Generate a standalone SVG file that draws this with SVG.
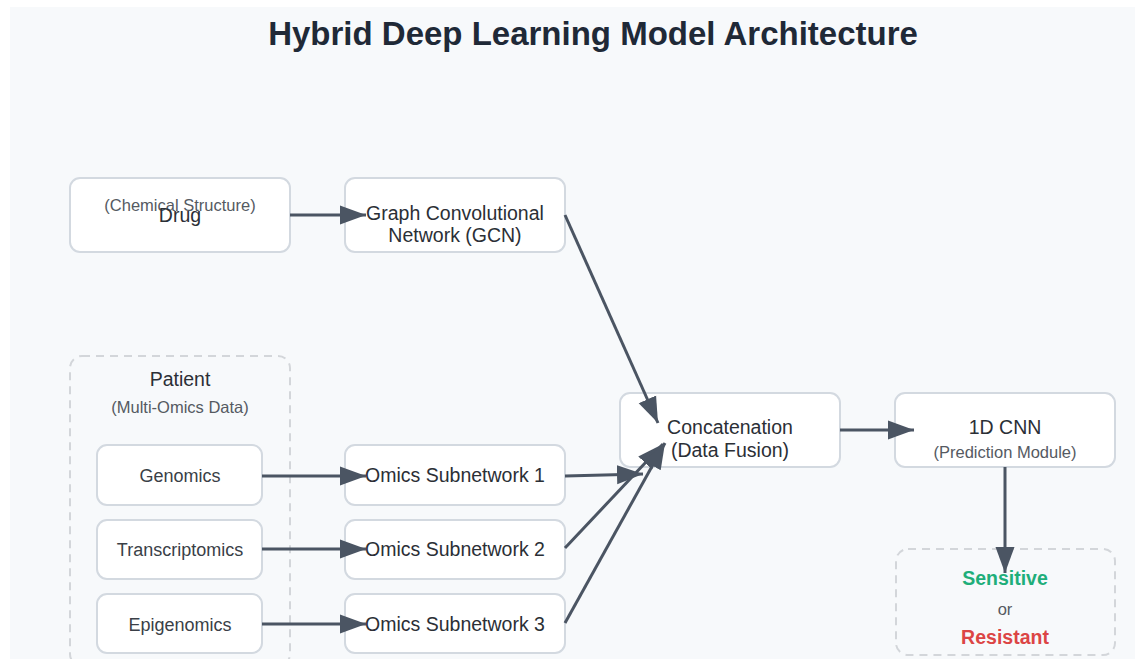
<svg xmlns="http://www.w3.org/2000/svg" width="1135" height="659" viewBox="0 0 1135 659">
<style>
.box{fill:#ffffff;stroke:#d3d9e0;stroke-width:2}
.dash{fill:none;stroke:#d3d6da;stroke-width:2;stroke-dasharray:8 6}
.t{font-family:"Liberation Sans",Arial,sans-serif;fill:#2b2f36;text-anchor:middle}
.m{font-size:19.5px}
.s{font-size:16.5px;fill:#555a62}
.g{font-size:18px;fill:#3a3f47}
.c{stroke:#4b5563;stroke-width:3;fill:none;marker-end:url(#ah)}
</style>
<defs>
<marker id="ah" markerUnits="userSpaceOnUse" markerWidth="27" markerHeight="22" refX="26" refY="11" orient="auto">
<path d="M0,1.5 L26,11 L0,20.5 Z" fill="#4b5563"/>
</marker>
</defs>
<rect x="0" y="0" width="1135" height="659" fill="#ffffff"/>
<rect x="10" y="7" width="1125" height="652" fill="#f7f9fb"/>
<text class="t" x="593" y="45" style="font-size:33px;font-weight:bold;fill:#1f2937">Hybrid Deep Learning Model Architecture</text>

<g id="drug">
<rect class="box" x="70" y="178" width="220" height="74" rx="10"/>
<text class="t s" x="180" y="211">(Chemical Structure)</text>
<text class="t m" x="180" y="222">Drug</text>
</g>
<g id="gcn">
<rect class="box" x="345" y="178" width="220" height="74" rx="10"/>
<text class="t m" x="455" y="220">Graph Convolutional</text>
<text class="t m" x="455" y="242">Network (GCN)</text>
</g>
<g id="patient">
<rect class="dash" x="70" y="356" width="220" height="310" rx="12"/>
<text class="t m" x="180" y="386">Patient</text>
<text class="t s" x="180" y="413">(Multi-Omics Data)</text>
</g>
<g id="genomics">
<rect class="box" x="97" y="445" width="165" height="60" rx="10"/>
<text class="t g" x="180" y="482">Genomics</text>
</g>
<g id="transcriptomics">
<rect class="box" x="97" y="520" width="165" height="59" rx="10"/>
<text class="t g" x="180" y="556">Transcriptomics</text>
</g>
<g id="epigenomics">
<rect class="box" x="97" y="594" width="165" height="59" rx="10"/>
<text class="t g" x="180" y="631">Epigenomics</text>
</g>
<g id="os1">
<rect class="box" x="345" y="445" width="220" height="60" rx="10"/>
<text class="t m" x="455" y="482">Omics Subnetwork 1</text>
</g>
<g id="os2">
<rect class="box" x="345" y="520" width="220" height="59" rx="10"/>
<text class="t m" x="455" y="556">Omics Subnetwork 2</text>
</g>
<g id="os3">
<rect class="box" x="345" y="594" width="220" height="59" rx="10"/>
<text class="t m" x="455" y="631">Omics Subnetwork 3</text>
</g>
<g id="concat">
<rect class="box" x="620" y="393" width="220" height="74" rx="10"/>
<text class="t m" x="730" y="434">Concatenation</text>
<text class="t m" x="730" y="457">(Data Fusion)</text>
</g>
<g id="cnn">
<rect class="box" x="895" y="393" width="220" height="74" rx="10"/>
<text class="t m" x="1005" y="434">1D CNN</text>
<text class="t s" x="1005" y="458">(Prediction Module)</text>
</g>
<g id="output">
<rect class="dash" x="896" y="549" width="219" height="106" rx="12"/>
<text class="t" x="1005" y="585" style="font-size:19.5px;font-weight:bold;fill:#1fae7a">Sensitive</text>
<text class="t s" x="1005" y="615">or</text>
<text class="t" x="1005" y="644" style="font-size:19.5px;font-weight:bold;fill:#dc4545">Resistant</text>
</g>

<g id="connectors">
<path class="c" d="M290,215 L366,215"/>
<path class="c" d="M262,476 L366,476"/>
<path class="c" d="M262,549 L366,549"/>
<path class="c" d="M262,624 L366,624"/>
<path class="c" d="M565,215 L658,423"/>
<path class="c" d="M565,476 L643,474"/>
<path class="c" d="M565,548 L663,444"/>
<path class="c" d="M565,623 L665,443"/>
<path class="c" d="M840,430 L914,430"/>
<path class="c" d="M1005,467 L1005,573"/>
</g>
</svg>
